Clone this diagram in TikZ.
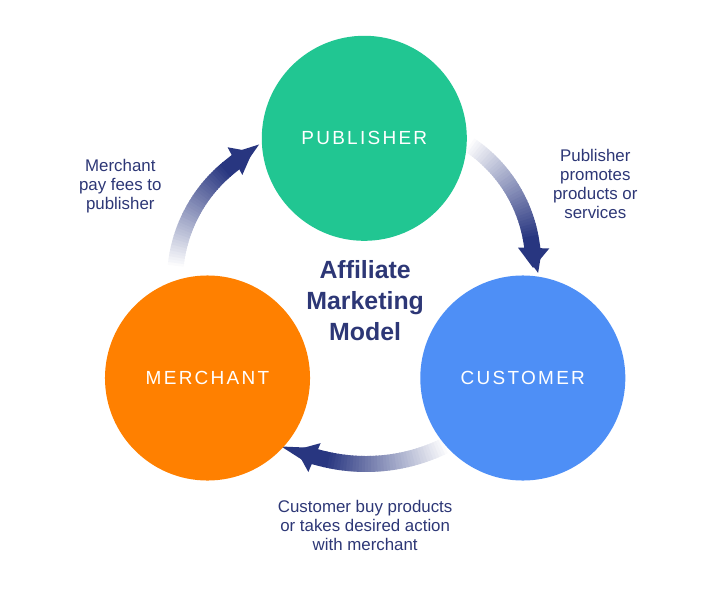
\documentclass[tikz,border=0pt]{standalone}
\usepackage{fontspec}
\setmainfont{Liberation Sans}
\usetikzlibrary{arrows.meta,calc,positioning}

\definecolor{pubgreen}{RGB}{33,198,146}
\definecolor{custblue}{RGB}{78,143,246}
\definecolor{merchorange}{RGB}{255,128,0}
\definecolor{navy}{RGB}{45,55,118}
\definecolor{arrowblue}{RGB}{40,54,128}

% hub, radius, start angle, end of fade, tip angle
\newcommand{\FlowArc}[5]{%
    \foreach \k in {0,...,39}{%
        \pgfmathsetmacro{\angA}{#3+(#4-#3)*\k/40}%
        \pgfmathsetmacro{\angB}{#3+(#4-#3)*(\k+1.3)/40}%
        \pgfmathtruncatemacro{\arcpct}{100*(\k+1)/40}%
        \draw[flowline, arrowblue!\arcpct!white] (#1) ++(\angA:#2) arc[start angle=\angA, end angle=\angB, radius=#2];
    }%
    \draw[flowline, arrowblue, -{Triangle[width=0.75cm,length=0.5cm]}] (#1) ++(#4:#2) arc[start angle=#4, end angle=#5, radius=#2];
}

\begin{document}
\begin{tikzpicture}[x=0.025cm, y=0.025cm]
    \tikzset{party/.style={circle, minimum size=5.125cm, inner sep=0pt,
        text=white, font=\fontsize{13.5}{16}\selectfont\addfontfeature{LetterSpace=12}},
      flowline/.style={line width=0.4cm},
      note/.style={align=center, text=navy, font=\fontsize{12}{13.5}\selectfont},
      title/.style={align=center, text=navy, font=\fontsize{17.7}{22}\selectfont\bfseries}}
    \useasboundingbox (0,0) rectangle (720,600);

    \coordinate (hubL) at (321.4,318.9);
    \coordinate (hubR) at (389.5,336);
    \coordinate (hubB) at (366,315);
    \FlowArc{hubL}{146.5}{174}{130}{118}
    \FlowArc{hubR}{143.6}{56}{10}{-1.6}
    \FlowArc{hubB}{179}{-64}{-103}{-113}

    \node[party, fill=pubgreen] (publisher) at (364.3,461.7) {PUBLISHER};
    \node[party, fill=merchorange] (merchant) at (207.5,222) {MERCHANT};
    \node[party, fill=custblue] (customer) at (522.8,222) {CUSTOMER};

    \node[title] (model) at ($(merchant)!0.5!(customer) + (0,77)$) {Affiliate\\Marketing\\Model};
    \node[note] (fees) at ($(publisher) + (-244,-48)$) {Merchant\\pay fees to\\publisher};
    \node[note] (promotes) at ($(publisher) + (231,-46)$) {Publisher\\promotes\\products or\\services};
    \node[note] (buys) at ($(merchant)!0.5!(customer) - (0,147)$) {Customer buy products\\or takes desired action\\with merchant};
\end{tikzpicture}
\end{document}
